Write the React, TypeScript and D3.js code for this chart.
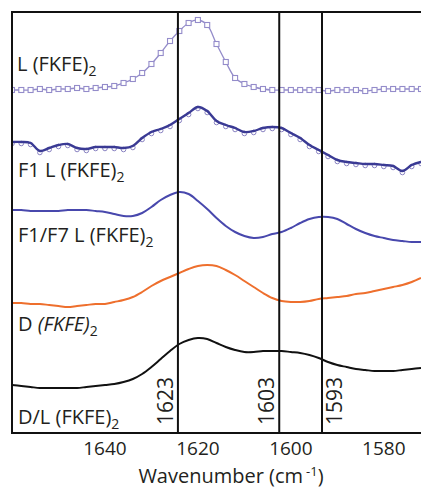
import React from "react";
import * as d3 from "d3";

// wavenumbers (cm-1), high to low as on the axis
const wavenumbers = [
  1660, 1658, 1656, 1654, 1652, 1650, 1648, 1646, 1644, 1642, 1640, 1638, 1636, 1634, 1632,
  1630, 1628, 1626, 1624, 1622, 1620, 1618, 1616, 1614, 1612, 1610, 1608, 1606, 1604, 1602,
  1600, 1598, 1596, 1594, 1592, 1590, 1588, 1586, 1584, 1582, 1580, 1578, 1576, 1574, 1572,
];

// absorbance (a.u., stacked with offsets already included)
const lFKFE = [
  3.43, 3.43, 3.43, 3.44, 3.43, 3.44, 3.44, 3.45, 3.44, 3.45, 3.46, 3.47, 3.5, 3.54, 3.6,
  3.69, 3.8, 3.92, 4.02, 4.1, 4.13, 4.08, 3.89, 3.71, 3.55, 3.49, 3.46, 3.44, 3.43, 3.43,
  3.43, 3.43, 3.43, 3.43, 3.42, 3.43, 3.43, 3.43, 3.42, 3.43, 3.44, 3.44, 3.44, 3.44, 3.44,
];
const f1L = [
  2.91, 2.91, 2.9, 2.82, 2.85, 2.88, 2.89, 2.85, 2.84, 2.86, 2.86, 2.86, 2.85, 2.87, 2.95,
  3.01, 3.04, 3.08, 3.14, 3.2, 3.26, 3.22, 3.12, 3.08, 3.05, 3.01, 3.02, 3.05, 3.06, 3.05,
  3.0, 2.95, 2.88, 2.83, 2.78, 2.73, 2.71, 2.7, 2.69, 2.69, 2.68, 2.67, 2.62, 2.68, 2.71,
];
const f1f7L = [
  2.23, 2.23, 2.22, 2.22, 2.22, 2.22, 2.23, 2.23, 2.23, 2.22, 2.21, 2.19, 2.17, 2.17, 2.2,
  2.26, 2.33, 2.38, 2.41, 2.39, 2.32, 2.24, 2.15, 2.07, 2.01, 1.97, 1.95, 1.96, 1.99, 2.01,
  2.05, 2.1, 2.14, 2.16, 2.16, 2.14, 2.09, 2.04, 2.0, 1.97, 1.95, 1.93, 1.92, 1.91, 1.91,
];
const dFKFE = [
  1.3, 1.3, 1.29, 1.29, 1.28, 1.27, 1.26, 1.27, 1.28, 1.29, 1.29, 1.31, 1.33, 1.36, 1.41,
  1.47, 1.52, 1.56, 1.6, 1.64, 1.67, 1.68, 1.67, 1.63, 1.58, 1.52, 1.46, 1.4, 1.35, 1.32,
  1.31, 1.31, 1.32, 1.34, 1.35, 1.36, 1.37, 1.39, 1.4, 1.42, 1.44, 1.46, 1.48, 1.51, 1.55,
];
const dlFKFE = [
  0.48, 0.47, 0.46, 0.45, 0.45, 0.45, 0.45, 0.45, 0.46, 0.47, 0.48, 0.49, 0.51, 0.54, 0.59,
  0.66, 0.74, 0.82, 0.89, 0.93, 0.95, 0.94, 0.9, 0.86, 0.83, 0.81, 0.81, 0.82, 0.82, 0.82,
  0.81, 0.8, 0.78, 0.75, 0.71, 0.68, 0.66, 0.64, 0.63, 0.62, 0.62, 0.62, 0.63, 0.64, 0.65,
];

const tickValues = [1640, 1620, 1600, 1580];
const markerPositions = [1624.3, 1602.5, 1593.3];
const markerLabels = ["1623", "1603", "1593"];

const W = 421;
const H = 488;
const margin = { top: 12, right: 0, bottom: 55, left: 12 };
const FONT = "'Open Sans', 'Noto Sans', sans-serif";

const Label = ({ x, y, pre, italic }: { x: number; y: number; pre: string; italic?: string }) => (
  <text x={x} y={y} fontFamily={FONT} fontSize={20} fill="#231f20">
    {pre}
    {italic ? <tspan fontStyle="italic">{italic}</tspan> : null}
    <tspan fontSize={14} dy={5}>2</tspan>
  </text>
);

export default function App() {
  const x = d3
    .scaleLinear()
    .domain([1660, 1572])
    .range([margin.left, W - margin.right]);
  const y = d3
    .scaleLinear()
    .domain([0, 4.21])
    .range([H - margin.bottom, margin.top]);

  const line = d3
    .line<number>()
    .x((_, i) => x(wavenumbers[i]))
    .y((d) => y(d))
    .curve(d3.curveCatmullRom);

  const bottom = H - margin.bottom;

  return (
    <svg
      width={W}
      height={H}
      style={{ position: "absolute", left: 0, top: 0, background: "#fff" }}
    >
      <defs>
        <clipPath id="plot">
          <rect x={margin.left} y={margin.top} width={W - margin.left} height={bottom - margin.top} />
        </clipPath>
      </defs>

      <g clipPath="url(#plot)">
        {/* L (FKFE)2 with square markers */}
        <path d={line(lFKFE) || ""} fill="none" stroke="#948cca" strokeWidth={1.3} />
        {lFKFE.map((v, i) => (
          <rect
            key={"s" + i}
            x={x(wavenumbers[i]) - 2.5}
            y={y(v) - 2.5}
            width={5}
            height={5}
            fill="#fff"
            stroke="#948cca"
            strokeWidth={1.1}
          />
        ))}

        {/* F1 L: data circles + fit line */}
        {f1L.map((v, i) => (
          <circle
            key={"c" + i}
            cx={x(wavenumbers[i])}
            cy={y(v) + 1.5}
            r={2.3}
            fill="#fff"
            stroke="#8a83c2"
            strokeWidth={1}
          />
        ))}
        <path d={line(f1L) || ""} fill="none" stroke="#3a3a94" strokeWidth={2.4} />

        <path d={line(f1f7L) || ""} fill="none" stroke="#4848ad" strokeWidth={2} />
        <path d={line(dFKFE) || ""} fill="none" stroke="#ee6f2d" strokeWidth={2} />
        <path d={line(dlFKFE) || ""} fill="none" stroke="#111" strokeWidth={2} />
      </g>

      {/* assignment lines */}
      {markerPositions.map((w, i) => (
        <line
          key={"m" + i}
          x1={x(w)}
          x2={x(w)}
          y1={margin.top}
          y2={bottom}
          stroke="#111"
          strokeWidth={2}
        />
      ))}
      {markerPositions.map((w, i) => {
        const lx = i === 2 ? x(w) + 20 : x(w) - 5;
        return (
          <text
            key={"ml" + i}
            transform={`translate(${lx},${bottom - 8}) rotate(-90)`}
            fontFamily={FONT}
            fontSize={21}
            fill="#231f20"
          >
            {markerLabels[i]}
          </text>
        );
      })}

      {/* frame */}
      <path
        d={`M${W},${margin.top}H${margin.left}V${bottom}H${W}`}
        fill="none"
        stroke="#111"
        strokeWidth={2}
      />

      {/* x ticks */}
      {tickValues.map((t) => (
        <text
          key={t}
          x={x(t)}
          y={bottom + 22}
          textAnchor="middle"
          fontFamily={FONT}
          fontSize={19}
          fill="#231f20"
        >
          {t}
        </text>
      ))}
      <text
        x={231}
        y={H - 5}
        textAnchor="middle"
        fontFamily={FONT}
        fontSize={20}
        fill="#231f20"
      >
        Wavenumber (cm
        <tspan fontSize={13} dy={-7} dx={3}>-1</tspan>
        <tspan dy={7}>)</tspan>
      </text>

      {/* series labels */}
      <Label x={17} y={71} pre="L (FKFE)" />
      <Label x={18} y={177} pre="F1 L (FKFE)" />
      <Label x={18} y={242} pre="F1/F7 L (FKFE)" />
      <Label x={18} y={331} pre="D " italic="(FKFE)" />
      <Label x={18} y={424} pre="D/L (FKFE)" />
    </svg>
  );
}
